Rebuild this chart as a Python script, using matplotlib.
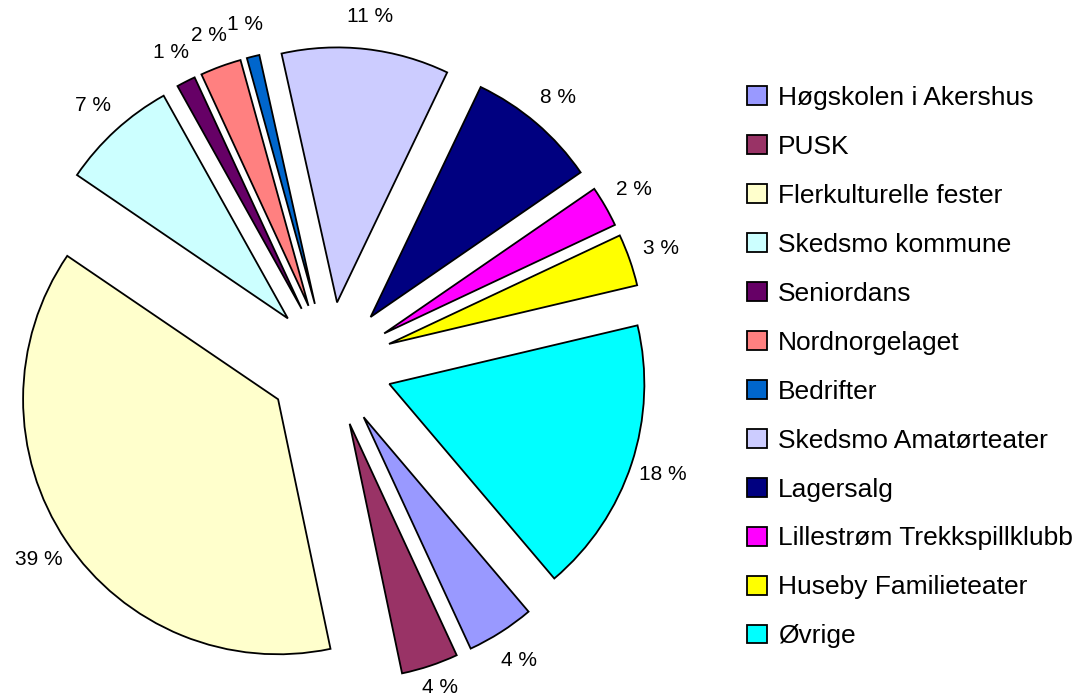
import numpy as np
import matplotlib
matplotlib.use("Agg")
import matplotlib.pyplot as plt

plt.rcParams['font.family'] = ['Liberation Sans', 'DejaVu Sans']

# Data (share of each slice) and printed labels
categories = ["Høgskolen i Akershus", "PUSK", "Flerkulturelle fester", "Skedsmo kommune",
              "Seniordans", "Nordnorgelaget", "Bedrifter", "Skedsmo Amatørteater",
              "Lagersalg", "Lillestrøm Trekkspillklubb", "Huseby Familieteater", "Øvrige"]
shares = [4.3, 3.6, 37.8, 7.4, 1.2, 2.6, 0.8, 10.6, 8.3, 2.6, 3.3, 17.5]
pct_labels = ["4 %", "4 %", "39 %", "7 %", "1 %", "2 %", "1 %", "11 %",
              "8 %", "2 %", "3 %", "18 %"]
colors = ["#9999FF", "#993366", "#FFFFCC", "#CCFFFF", "#660066", "#FF8080",
          "#0066CC", "#CCCCFF", "#000080", "#FF00FF", "#FFFF00", "#00FFFF"]

W, H = 1084, 699
fig = plt.figure(figsize=(W / 100, H / 100), dpi=100)
ax = fig.add_axes([0, 0, 1, 1])

wedges, _ = ax.pie(shares, explode=[0.245] * len(shares), colors=colors,
                   startangle=-49.7, counterclock=False,
                   wedgeprops=dict(edgecolor="black", linewidth=1.3))

cx_px, cy_px, R_px = 330, 364.5, 255
ax.set_xlim(-cx_px / R_px, (W - cx_px) / R_px)
ax.set_ylim(-(H - cy_px) / R_px, cy_px / R_px)
ax.set_aspect("auto")
ax.axis("off")

texts = []
for w, lab in zip(wedges, pct_labels):
    th = np.deg2rad((w.theta1 + w.theta2) / 2)
    cx, cy = w.center
    d = 1.13 * w.r
    texts.append(ax.text(cx + d * np.cos(th), cy + d * np.sin(th), lab,
                         ha="center", va="center", fontsize=15, color="black"))

# keep labels inside the figure (as the original chart does)
fig.canvas.draw()
renderer = fig.canvas.get_renderer()
for t in texts:
    bb = t.get_window_extent(renderer)
    dy = 0
    if bb.y0 < 2:
        dy = 2 - bb.y0
    elif bb.y1 > H - 2:
        dy = (H - 2) - bb.y1
    if dy:
        x, y = t.get_position()
        t.set_position((x, y + dy / R_px))

fs = 19
fs_px = fs * 100 / 72
leg = ax.legend(wedges, categories, loc="upper left",
                bbox_to_anchor=(747 / W, 1 - 86 / H), bbox_transform=fig.transFigure,
                frameon=False, fontsize=fs, borderpad=0, borderaxespad=0,
                handlelength=20 / fs_px, handleheight=19 / fs_px,
                handletextpad=11 / fs_px, labelspacing=0.945)

fig.savefig("out.png", dpi=100)
